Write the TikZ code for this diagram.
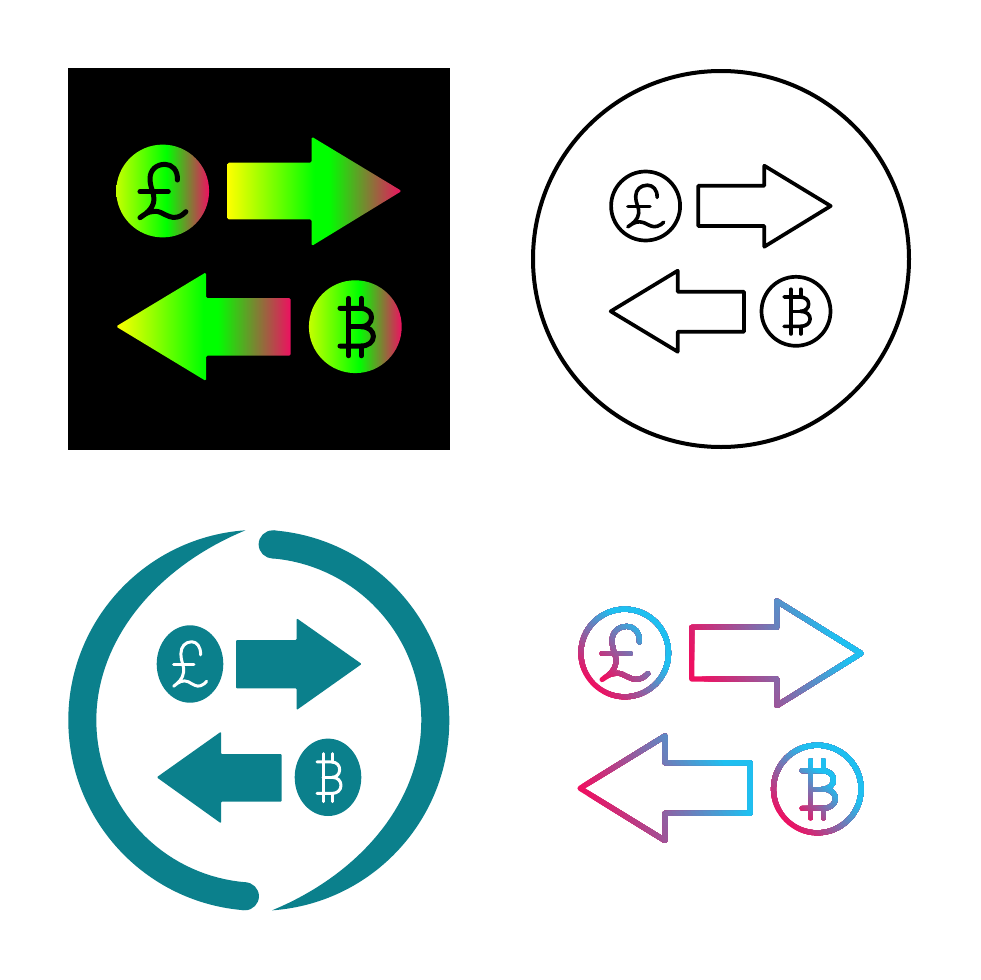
\documentclass[tikz,border=0pt]{standalone}
\usepackage{tikz}
\definecolor{pinkc}{HTML}{EE1061}
\definecolor{cyanc}{HTML}{1FBFF0}
\definecolor{tealc}{HTML}{0B808C}
\definecolor{limec}{HTML}{C4FF00}
\pgfdeclarehorizontalshading{arrowshade}{100bp}{color(0bp)=(yellow); color(25bp)=(yellow); color(50bp)=(green); color(54bp)=(green); color(75bp)=(pinkc); color(100bp)=(pinkc)}
\pgfdeclarehorizontalshading{coinshade}{100bp}{color(0bp)=(limec); color(25bp)=(limec); color(52bp)=(green); color(75bp)=(pinkc); color(100bp)=(pinkc)}
% one arrow: body end, body top, body bottom, neck, head top, head bottom, tip x, tip y
\newcommand{\arrowpath}[8]{(#1,#2) -- (#4,#2) -- (#4,#5) -- (#7,#8) -- (#4,#6) -- (#4,#3) -- (#1,#3) -- cycle}
\newcommand{\poundsign}{
  \draw (.317,-.237) .. controls (.33,-.45) and (.2,-.575) .. (.05,-.575) .. controls (-.14,-.575) and (-.273,-.45) .. (-.273,-.27) .. controls (-.273,-.05) and (-.17,.05) .. (-.19,.2) .. controls (-.205,.38) and (-.37,.5) .. (-.49,.575) .. controls (-.35,.46) and (-.2,.4) .. (-.05,.46) .. controls (.1,.53) and (.2,.6) .. (.32,.56) .. controls (.4,.54) and (.46,.49) .. (.5,.446);
  \draw (-.49,.015) -- (.12,.015);
}
\newcommand{\bitcoinsign}{
  \draw (-.144,-.61) -- (-.144,-.396) (.13,-.61) -- (.13,-.396) (-.144,.417) -- (-.144,.626) (.13,.417) -- (.13,.626);
  \draw (-.33,-.396) -- (.1,-.396) .. controls (.27,-.396) and (.35,-.3) .. (.35,-.2) .. controls (.35,-.08) and (.25,0) .. (.12,0) .. controls (.3,0) and (.39,.1) .. (.39,.21) .. controls (.39,.33) and (.28,.417) .. (.12,.417) -- (-.33,.417);
  \draw (-.144,-.396) -- (-.144,.417) (-.144,0) -- (.12,0);
}
% start x, start y, angle, length, what to stroke
\newcommand{\gradstroke}[5]{
  \begin{scope}[draw=pinkc]#5\end{scope}
  \foreach \i [evaluate=\i as \mixp using 100-2.5*\i] in {1,...,40}{
    \begin{scope}
      \clip[shift={(#1,#2)},rotate=#3] (\i*#4/40,-500) rectangle (1500,500);
      \begin{scope}[draw=pinkc!\mixp!cyanc]#5\end{scope}
    \end{scope}
  }
}

\begin{document}
\begin{tikzpicture}[x=1pt,y=-1pt,line join=round,line cap=round,
    thinline/.style={line width=3.7pt},
    gradline/.style={line width=5.2pt},
    arrowfill/.style={shading=arrowshade,rounded corners=1.5pt},
    tealfill/.style={fill=tealc,rounded corners=1pt}]
  \useasboundingbox (0,0) rectangle (980,980);
  \fill[white] (0,0) rectangle (980,980);

  % black square
  \fill[black] (68,68) rectangle (450,450);
  \shade[shading=coinshade] (162.7,191) circle[radius=46.4];
  \shade[shading=coinshade] (355.3,326.7) circle[radius=46.4];
  \shade[arrowfill] \arrowpath{227.3}{162.7}{219.3}{311.7}{136.7}{246}{401.7}{191};
  \shade[arrowfill] \arrowpath{290.7}{298}{355.7}{206}{272.3}{381}{116}{326.5};
  \begin{scope}[shift={(162.7,191)},x=46.4pt,y=-46.4pt,line width=5pt,draw=black]
    \poundsign
  \end{scope}
  \begin{scope}[shift={(355.3,326.7)},x=46.4pt,y=-46.4pt,line width=5pt,draw=black]
    \bitcoinsign
  \end{scope}

  % black outline
  \draw[line width=4pt] (721,259) circle[radius=188];
  \draw[thinline] (645.6,206) circle[radius=34.5];
  \draw[thinline] (796,311.3) circle[radius=34.5];
  \draw[thinline] \arrowpath{698.3}{185.7}{226}{764.3}{165.7}{246.7}{830.7}{206};
  \draw[thinline] \arrowpath{744}{291.7}{331.7}{677.7}{270.7}{351.7}{610.7}{311.3};
  \begin{scope}[shift={(645.6,206)},x=36.2pt,y=-36.2pt,line width=3.6pt]
    \poundsign
  \end{scope}
  \begin{scope}[shift={(796,311.3)},x=36.2pt,y=-36.2pt,line width=3.6pt]
    \bitcoinsign
  \end{scope}

  % teal ring
  \foreach \ang in {0,180}{
    \begin{scope}[shift={(258.8,720.3)},y=1pt,rotate=\ang]
      \fill[tealc] (94:190.5) arc[start angle=94,end angle=265.5,radius=190.5] -- plot[domain=265.5:94,samples=70] (\x:{190.5-28*(1-(max(170-\x,0)/76)^3)}) -- cycle;
      \fill[tealc] (265.5:176.5) circle[radius=14];
    \end{scope}
  }
  \fill[tealc] (190,664) ellipse[x radius=33.3,y radius=38.7];
  \fill[tealc] (328,777.3) ellipse[x radius=33.3,y radius=38.7];
  \fill[tealfill] \arrowpath{236}{640}{688.3}{296.7}{618.3}{710}{361.7}{664};
  \fill[tealfill] \arrowpath{281.7}{754}{801.7}{221}{731.7}{823.3}{156.7}{777.3};
  \begin{scope}[shift={(190,664)},x=33.3pt,y=-38.7pt,line width=3pt,draw=white]
    \poundsign
  \end{scope}
  \begin{scope}[shift={(328,777.3)},x=33.3pt,y=-38.7pt,line width=3pt,draw=white]
    \bitcoinsign
  \end{scope}

  % gradient outline
  \gradstroke{592}{685}{45}{65}{\draw[gradline] (624.7,653) circle[radius=43.8];}
  \gradstroke{785}{822}{45}{65}{\draw[gradline] (817.3,789) circle[radius=43.8];}
  \gradstroke{695}{670}{25}{140}{\draw[gradline] \arrowpath{691.7}{627.3}{679}{776.7}{601}{705.7}{861}{653.3};}
  \gradstroke{590}{810}{25}{140}{\draw[gradline] \arrowpath{750}{762.7}{813.3}{665}{736}{840.6}{580}{788.3};}
  \gradstroke{600}{675}{45}{65}{
    \begin{scope}[shift={(624.7,653)},x=46.3pt,y=-46.3pt,line width=5pt]
      \poundsign
    \end{scope}}
  \gradstroke{795}{812}{45}{45}{
    \begin{scope}[shift={(817.3,789)},x=46.3pt,y=-46.3pt,line width=5pt]
      \bitcoinsign
    \end{scope}}
\end{tikzpicture}
\end{document}
